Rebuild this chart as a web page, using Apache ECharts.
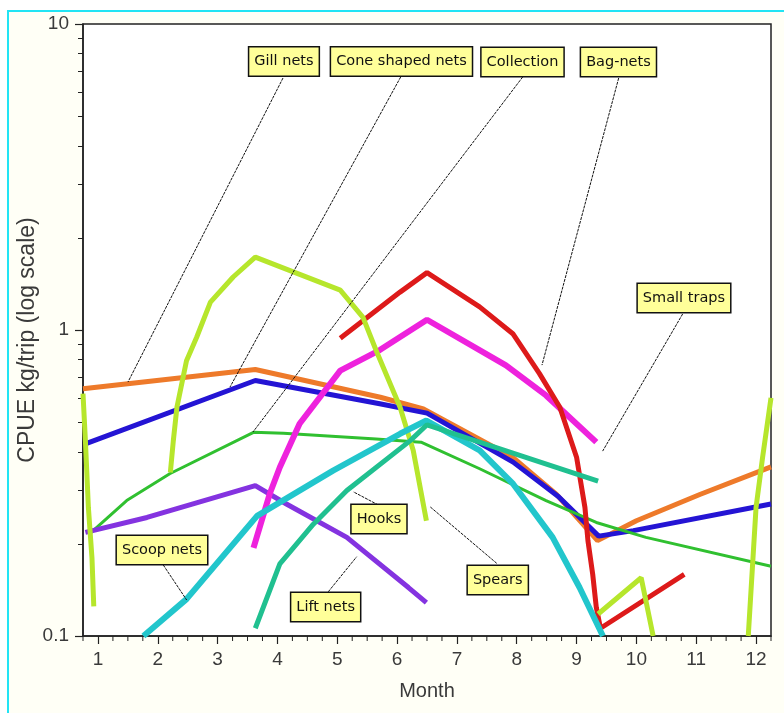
<!DOCTYPE html>
<html><head><meta charset="utf-8">
<script src="https://cdn.jsdelivr.net/npm/echarts@6/dist/echarts.min.js"></script>
<style>
html,body{margin:0;padding:0;background:#fff;overflow:hidden;width:784px;height:713px}
#bg{position:absolute;left:7px;top:10px;width:800px;height:800px;border:2px solid #22e4f4;background:#fffff6;z-index:0}
#c{position:absolute;left:0;top:0;width:784px;height:713px;z-index:1}
</style>
</head><body><div id="bg"></div><div id="c"></div>
<script>
// ---- tick labels ----
const months = [1,2,3,4,5,6,7,8,9,10,11,12];
const yMajor = [0.1, 1, 10];
const xMinor = [];
for (let m = 0.75; m <= 12.25 + 1e-9; m += 0.25) { if (Math.abs(m - Math.round(m)) > 1e-6) xMinor.push(+m.toFixed(2)); }
const X_MIN = 0.75, X_MAX = 12.25, Y_MIN = 0.1, Y_MAX = 10;

// ---- series values: [month, CPUE kg/trip] ----
const gillNets = [[0.75,0.643],[3.63,0.743],[5.72,0.603],[6.44,0.552],[7.94,0.383],[8.66,0.291],[9.35,0.205],[10,0.238],[11.06,0.29],[12.25,0.357]];
const coneShapedNets = [[0.8,0.425],[3.63,0.684],[5.71,0.574],[6.5,0.535],[7.94,0.37],[8.7,0.285],[9.37,0.212],[9.95,0.221],[12.25,0.27]];
const collection = [[0.85,0.215],[1.48,0.277],[2.2,0.339],[3.6,0.463],[4.1,0.46],[5.65,0.44],[6.4,0.43],[7.38,0.352],[8.49,0.277],[9.33,0.235],[10.16,0.21],[12.25,0.169]];
const liftNets = [[0.79,0.218],[1.82,0.244],[3.63,0.31],[4.15,0.27],[5.16,0.21],[6.19,0.144],[6.49,0.1285]];
const smallTraps = [[3.6,0.194],[3.87,0.291],[4.04,0.356],[4.37,0.494],[5.05,0.737],[5.71,0.86],[6.5,1.08],[7.82,0.766],[8.49,0.611],[9.33,0.43]];
const bagNets = [[5.05,0.94],[6.05,1.33],[6.5,1.54],[7.38,1.19],[7.94,0.97],[8.38,0.72],[8.72,0.559],[9.0,0.384],[9.14,0.263],[9.19,0.205],[9.27,0.159],[9.33,0.124],[9.4,0.106],[10.8,0.159]];
const spears = [[0.75,0.62],[0.79,0.435],[0.84,0.263],[0.9,0.18],[0.93,0.125],[0.93,'-'],
  [2.21,0.342],[2.26,0.435],[2.32,0.559],[2.48,0.794],[2.65,0.947],[2.88,1.233],[3.26,1.49],[3.63,1.73],[5.05,1.35],[5.43,1.10],[5.65,0.857],[6.05,0.559],[6.27,0.404],[6.49,0.238],[6.49,'-'],
  [9.36,0.118],[10.08,0.155],[10.28,0.1],[10.28,'-'],
  [11.87,0.1],[12.0,0.263],[12.11,0.384],[12.25,0.6]];
const scoopNets = [[1.76,0.1],[2.48,0.132],[3.66,0.247],[4.93,0.347],[6.05,0.458],[6.49,0.506],[7.38,0.404],[7.94,0.314],[8.6,0.21],[9.05,0.144],[9.44,0.1]];
const hooks = [[3.63,0.106],[4.04,0.172],[4.6,0.232],[5.16,0.299],[6.22,0.435],[6.5,0.49],[9.36,0.321]];

// ---- callouts: label, box centre, leader start, leader tip (data coords) ----
const callouts = [
  {text:'Gill nets',        box:[4.109,7.544], start:[4.093,6.66], tip:[1.502,0.676]},
  {text:'Cone shaped nets', box:[6.073,7.544], start:[6.060,6.71], tip:[3.207,0.651]},
  {text:'Collection',       box:[8.096,7.51],  start:[8.099,6.71], tip:[3.591,0.464]},
  {text:'Bag-nets',         box:[9.700,7.51],  start:[9.704,6.66], tip:[8.422,0.768]},
  {text:'Small traps',      box:[10.795,1.272],start:[10.773,1.128],tip:[9.436,0.402]},
  {text:'Hooks',            box:[5.697,0.2412],start:[5.686,0.268],tip:[5.268,0.296]},
  {text:'Scoop nets',       box:[2.070,0.191], start:[2.092,0.1706],tip:[2.483,0.1311]},
  {text:'Lift nets',        box:[4.806,0.1244],start:[4.850,0.1395],tip:[5.325,0.1816]},
  {text:'Spears',           box:[7.683,0.1524],start:[7.665,0.1728],tip:[6.550,0.2646]}
];

const FONT = '"Liberation Sans", Arial, sans-serif';
const AXIS_LINE = {show:true, onZero:false, lineStyle:{color:'#222', width:1.5}};
function line(name, data, color, width) {
  return {name, type:'line', data, xAxisIndex:0, yAxisIndex:0, showSymbol:false, symbol:'none',
    lineStyle:{color, width}, itemStyle:{color}, clip:true, connectNulls:false, animation:false, z:3};
}

const chart = echarts.init(document.getElementById('c'), null, {renderer:'canvas'});
chart.setOption({
  animation:false,
  backgroundColor:'transparent',
  grid:{left:83, top:24, width:688, height:612, show:true, backgroundColor:'#ffffff', borderColor:'#222', borderWidth:1.5, containLabel:false},
  xAxis:{type:'value', min:X_MIN, max:X_MAX, position:'bottom',
     axisLine:AXIS_LINE,
     axisTick:{show:true, customValues:months, length:8, lineStyle:{color:'#222', width:1.2}},
     axisLabel:{customValues:months, fontSize:19, color:'#3a3a3a', margin:14, fontFamily:FONT},
     splitLine:{show:false},
     name:'Month', nameLocation:'middle', nameGap:45, nameMoveOverlap:false,
     nameTextStyle:{fontSize:20, color:'#3a3a3a', fontFamily:FONT}},
  yAxis:{type:'log', logBase:10, min:Y_MIN, max:Y_MAX, position:'left',
     axisLine:AXIS_LINE,
     axisTick:{show:true, customValues:yMajor, length:8, lineStyle:{color:'#222', width:1.2}},
     axisLabel:{customValues:yMajor, fontSize:19, color:'#3a3a3a', margin:14, fontFamily:FONT,
       formatter:v => String(+(+v).toPrecision(3))},
     splitLine:{show:false},
     minorTick:{show:true, splitNumber:9, length:5, lineStyle:{color:'#222', width:1}},
     name:'CPUE kg/trip (log scale)', nameLocation:'middle', nameGap:44, nameMoveOverlap:false,
     nameTextStyle:{fontSize:23, color:'#3a3a3a', fontFamily:FONT, padding:[0,20,0,0]}},
  series:[
    line('Gill nets', gillNets, '#ee7a2a', 5),
    line('Cone shaped nets', coneShapedNets, '#2414d4', 5),
    line('Collection', collection, '#30c030', 3),
    line('Lift nets', liftNets, '#8433e0', 5),
    line('Small traps', smallTraps, '#ee22dd', 6),
    line('Bag-nets', bagNets, '#dd1a1a', 5),
    line('Spears', spears, '#b6e62c', 5),
    line('Scoop nets', scoopNets, '#22c6cc', 6),
    line('Hooks', hooks, '#20c090', 5),
    {type:'custom', name:'callouts', z:10, animation:false, silent:true,
     data: callouts.map(c => c.box),
     encode:{x:0, y:1},
     renderItem:(params, api) => {
       const a = callouts[params.dataIndex];
       const c = api.coord(a.box), s = api.coord(a.start), t = api.coord(a.tip);
       return {type:'group', children:[
         {type:'line', shape:{x1:s[0], y1:s[1], x2:t[0], y2:t[1]}, style:{stroke:'#111', lineWidth:1, lineDash:[3,1]}},
         {type:'text', x:c[0], y:c[1], style:{text:a.text, align:'center', verticalAlign:'middle',
           font:'14.5px "DejaVu Sans", sans-serif', fill:'#111', lineHeight:18,
           backgroundColor:'#ffff99', borderColor:'#111', borderWidth:1.5, padding:[5,5,5,5]}}
       ]};
     }}
  ]
});

// minor ticks on the month axis, positioned through the chart's own axis scales
const yBottom = chart.convertToPixel({yAxisIndex:0}, Y_MIN);
const tickEls = xMinor.map(v => {
  const x = chart.convertToPixel({xAxisIndex:0}, v);
  return {type:'line', silent:true, z:50, shape:{x1:x, y1:yBottom, x2:x, y2:yBottom + 5}, style:{stroke:'#222', lineWidth:1}};
});
chart.setOption({graphic:{elements:tickEls}});
</script></body></html>
